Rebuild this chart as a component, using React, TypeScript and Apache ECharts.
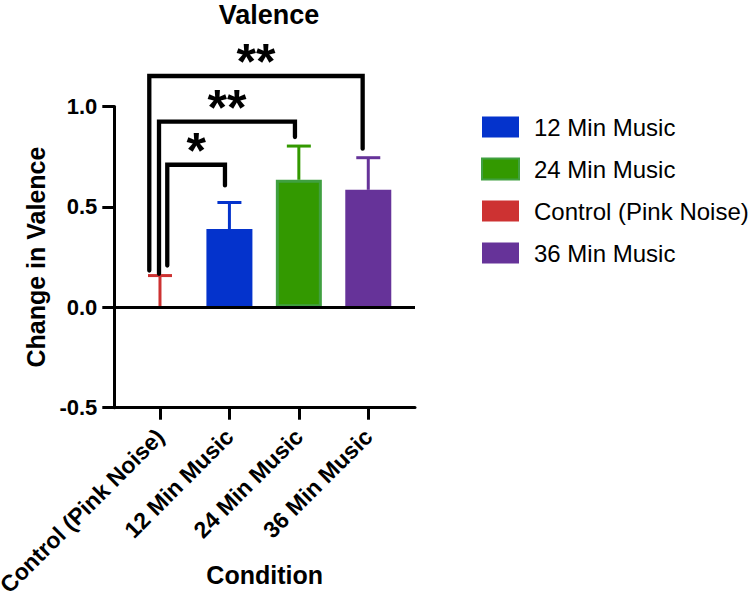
import React, { useEffect, useRef } from 'react';
import * as echarts from 'echarts';

// ---- data ----
const categories = ['Control (Pink Noise)', '12 Min Music', '24 Min Music', '36 Min Music'];
const means = [0, 0.39, 0.635, 0.585];
const errUpper = [0.158, 0.522, 0.803, 0.745];
const legendOrder = ['12 Min Music', '24 Min Music', 'Control (Pink Noise)', '36 Min Music'];
const categoryPositions = [0, 1, 2, 3];

// significance brackets (from control to each music group)
const bracketLeftX = [0.105, -0.014, -0.154];
const bracketLeftBottom = [0.208, 0.167, 0.183];
const bracketRightX = [0.936, 1.944, 2.919];
const bracketRightBottom = [0.607, 0.848, 0.79];
const bracketTop = [0.71, 0.925, 1.152];
const bracketLabels = ['*', '**', '**'];

// ---- styles ----
const FONT = '"Liberation Sans", Arial, Helvetica, sans-serif';
const colors: Record<string, string> = {
  'Control (Pink Noise)': '#cd3232',
  '12 Min Music': '#0433cc',
  '24 Min Music': '#339900',
  '36 Min Music': '#663399',
};
const borders: Record<string, string> = {
  'Control (Pink Noise)': '#cd3232',
  '12 Min Music': '#0433cc',
  '24 Min Music': '#40a040',
  '36 Min Music': '#663399',
};

export default function App() {
  const ref = useRef<HTMLDivElement>(null);

  useEffect(() => {
    document.body.style.margin = '0';
    if (!ref.current) return;
    const chart = echarts.init(ref.current, null, { renderer: 'svg' });

    const barSeries: any[] = legendOrder.map((name, k) => {
      const i = categories.indexOf(name);
      const s: any = {
        type: 'bar',
        name,
        data: [[categoryPositions[i], means[i]]],
        barWidth: 46,
        barGap: '-100%',
        itemStyle: {
          color: colors[name],
          borderColor: borders[name],
          borderWidth: name === '24 Min Music' ? 3 : 0,
        },
        z: 2,
      };
      if (k === 0) {
        s.markLine = {
          silent: true,
          symbol: ['none', 'none'],
          label: { show: false },
          lineStyle: { color: '#000', width: 3, type: 'solid' },
          data: [{ yAxis: 0 }],
          z: 5,
        };
      }
      return s;
    });

    const errorSeries = {
      type: 'custom',
      name: 'err',
      z: 3,
      encode: { x: 0, y: [1, 2] },
      data: categories.map((c, i) => [categoryPositions[i], means[i], errUpper[i]]),
      renderItem: (params: any, api: any) => {
        const i = params.dataIndex;
        const p0 = api.coord([api.value(0), api.value(1)]);
        const p1 = api.coord([api.value(0), api.value(2)]);
        const c = colors[categories[i]];
        return {
          type: 'group',
          children: [
            { type: 'line', shape: { x1: p0[0], y1: p0[1], x2: p1[0], y2: p1[1] }, style: { stroke: c, lineWidth: 3 } },
            { type: 'line', shape: { x1: p1[0] - 12, y1: p1[1], x2: p1[0] + 12, y2: p1[1] }, style: { stroke: c, lineWidth: 3 } },
          ],
        };
      },
    };

    const bracketSeries = {
      type: 'custom',
      name: 'sig',
      z: 6,
      encode: { x: [0, 2], y: [1, 3, 4] },
      data: bracketLabels.map((l, i) => [bracketLeftX[i], bracketLeftBottom[i], bracketRightX[i], bracketRightBottom[i], bracketTop[i]]),
      renderItem: (params: any, api: any) => {
        const i = params.dataIndex;
        const lb = api.coord([api.value(0), api.value(1)]);
        const lt = api.coord([api.value(0), api.value(4)]);
        const rt = api.coord([api.value(2), api.value(4)]);
        const rb = api.coord([api.value(2), api.value(3)]);
        return {
          type: 'group',
          children: [
            {
              type: 'polyline',
              shape: { points: [lb, lt, rt, rb] },
              style: { stroke: '#000', lineWidth: 4.3, fill: null, lineCap: 'round', lineJoin: 'miter' },
            },
            {
              type: 'text',
              x: (lt[0] + rt[0]) / 2,
              y: lt[1] - 14,
              style: {
                text: bracketLabels[i],
                fontSize: 50,
                fontWeight: 'bold',
                fontFamily: FONT,
                fill: '#000',
                align: 'center',
                verticalAlign: 'middle',
              },
            },
          ],
        };
      },
    };

    chart.setOption({
      animation: false,
      title: {
        text: 'Valence',
        left: 264,
        top: -4,
        textAlign: 'center',
        textStyle: { fontFamily: FONT, fontSize: 27, fontWeight: 'bold', color: '#000' },
      },
      legend: {
        data: legendOrder,
        orient: 'vertical',
        left: 481,
        top: 115,
        padding: 0,
        icon: 'rect',
        itemWidth: 37,
        itemHeight: 21,
        itemGap: 18,
        selectedMode: false,
        textStyle: { fontFamily: FONT, fontSize: 24, color: '#000', padding: [0, 0, 0, 10] },
      },
      grid: { left: 114.3, right: 335, top: 106.5, bottom: 186.3, containLabel: false, outerBoundsMode: 'none' },
      xAxis: {
        type: 'value',
        min: -0.658,
        max: 3.673,
        name: 'Condition',
        nameLocation: 'middle',
        nameGap: 155,
        nameMoveOverlap: false,
        nameTextStyle: { fontFamily: FONT, fontSize: 25, fontWeight: 'bold', color: '#000' },
        splitLine: { show: false },
        axisLine: { onZero: false, lineStyle: { color: '#000', width: 3 } },
        axisTick: { show: true, customValues: categoryPositions, length: 12, lineStyle: { color: '#000', width: 3 } },
        axisLabel: {
          customValues: categoryPositions,
          rotate: 45,
          margin: 25,
          padding: [8, 0, 0, 0],
          fontFamily: FONT,
          fontSize: 23,
          fontWeight: 'bold',
          color: '#000',
          formatter: (v: number) => categories[Math.round(v)] ?? '',
        },
      },
      yAxis: {
        type: 'value',
        min: -0.5,
        max: 1.0,
        interval: 0.5,
        name: 'Change in Valence',
        nameLocation: 'middle',
        nameGap: 66,
        nameMoveOverlap: false,
        nameTextStyle: { fontFamily: FONT, fontSize: 25, fontWeight: 'bold', color: '#000' },
        splitLine: { show: false },
        axisLine: { show: true, onZero: false, lineStyle: { color: '#000', width: 3 } },
        axisTick: { show: true, length: 12, lineStyle: { color: '#000', width: 3 } },
        axisLabel: {
          margin: 17,
          fontFamily: FONT,
          fontSize: 22,
          fontWeight: 'bold',
          color: '#000',
          formatter: (v: number) => v.toFixed(1),
        },
      },
      series: [...barSeries, errorSeries, bracketSeries],
    });

    return () => chart.dispose();
  }, []);

  return <div ref={ref} style={{ position: 'absolute', left: 0, top: 0, width: 750, height: 594 }} />;
}
